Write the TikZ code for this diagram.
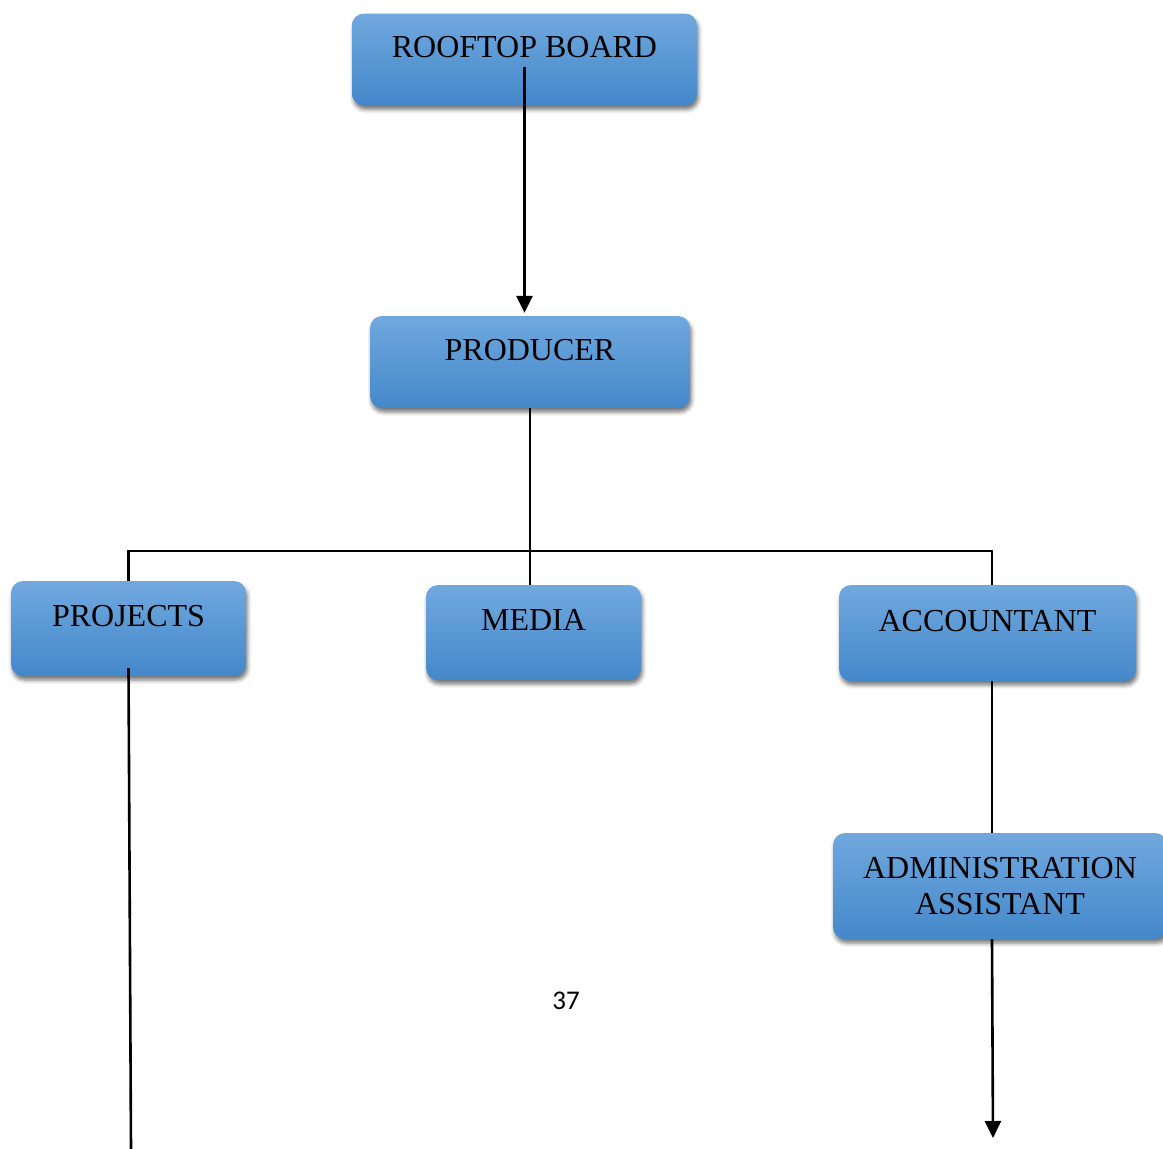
\documentclass[tikz,border=0pt]{standalone}
\usepackage{fontspec}
\setmainfont{Liberation Serif}
\newfontfamily\pagefont{Carlito}
\usetikzlibrary{arrows.meta,shadows.blur}
\definecolor{boxtop}{RGB}{112,168,222}
\definecolor{boxbot}{RGB}{68,136,202}

\begin{document}
\begin{tikzpicture}[x=1pt,y=-1pt,
  orgbox/.style={rectangle,rounded corners=12pt,top color=boxtop,bottom color=boxbot,
    blur shadow={shadow xshift=1.5pt,shadow yshift=-4pt,shadow blur radius=4pt,shadow opacity=55},
    font=\fontsize{32}{36}\selectfont,minimum height=92pt,align=center},
  toptext/.style={text height=21pt,text depth=25pt},
  arj/.style={line width=2.6pt,-{Triangle[length=17pt,width=16pt]}},
  ln/.style={line width=2.6pt}]
\useasboundingbox (0,0) rectangle (1163,1149);

\node[orgbox,toptext,minimum width=345pt] (board) at (524.5,59.5) {ROOFTOP BOARD};
\node[orgbox,toptext,minimum width=320pt] (producer) at (530,362) {PRODUCER};
\node[orgbox,toptext,minimum width=235pt,minimum height=95pt] (projects) at (128.5,628.5) {PROJECTS};
\node[orgbox,toptext,minimum width=215pt,minimum height=95pt] (media) at (533.5,632.5) {MEDIA};
\node[orgbox,toptext,minimum width=297pt,minimum height=96pt] (accountant) at (987.5,633) {ACCOUNTANT};
\node[orgbox,minimum width=334pt,minimum height=106pt] (admin) at (1000,886) {ADMINISTRATION\\ASSISTANT};
\node[font=\pagefont\fontsize{27}{31}\selectfont] (pagenum) at (566,1001) {37};

\coordinate (bar) at (0,551);
\coordinate (trunk) at (992,0);
\coordinate (projend) at (131,1149);
\coordinate (adminend) at (993,1138);

\draw[arj,shorten >=3pt] ([yshift=-7pt]board.center) -- (board.center |- producer.north);
\draw[ln] (producer.south) -- (producer.south |- media.north);
\draw[ln] (projects.north) -- (projects.north |- bar) -- (trunk |- bar) -- (trunk |- accountant.north);
\draw[ln] ([yshift=8pt]projects.south) -- (projend);
\draw[ln] (trunk |- accountant.south) -- (trunk |- admin.north);
\draw[arj] (trunk |- admin.south) -- (adminend);
\end{tikzpicture}
\end{document}
